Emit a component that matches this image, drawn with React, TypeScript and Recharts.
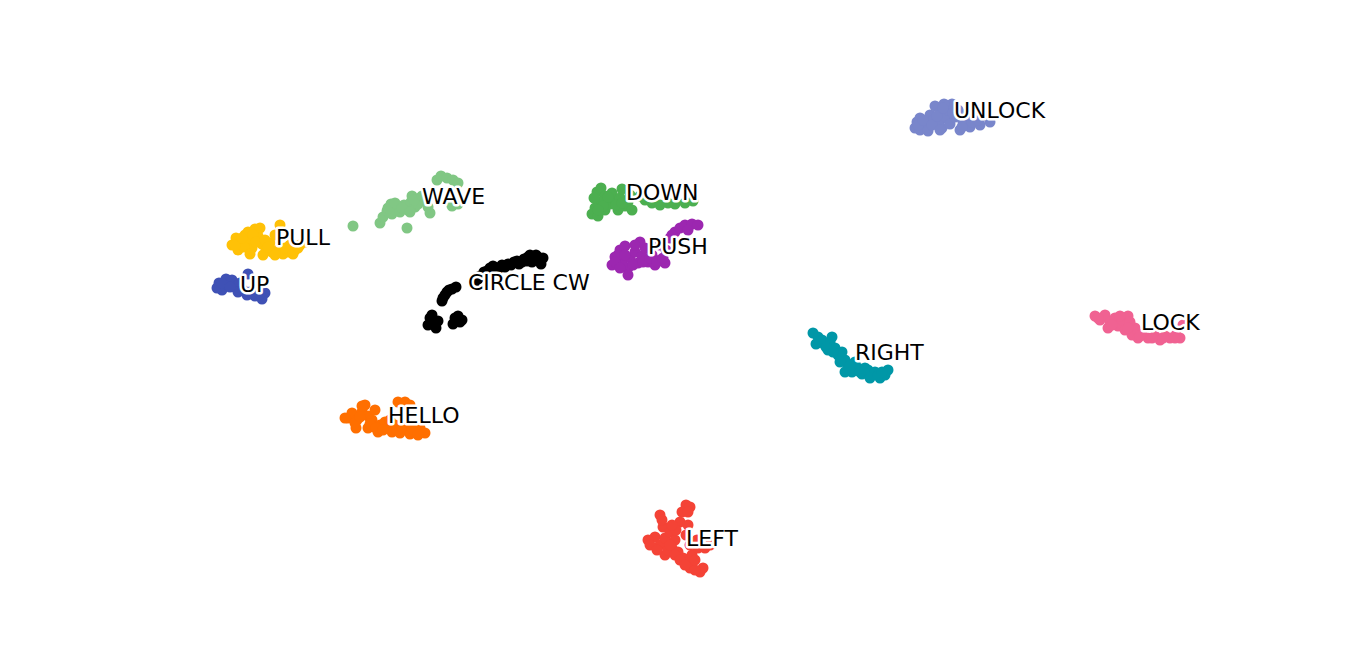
import { Scatter, ScatterChart, XAxis, YAxis } from 'recharts'

type Pt = { x: number; y: number }

const unlock: Pt[] = [
  { x: 23.4, y: 21.3 }, { x: 23.2, y: 20.7 }, { x: 23.7, y: 21.7 }, { x: 24.2, y: 21.0 },
  { x: 24.7, y: 22.0 }, { x: 25.2, y: 22.9 }, { x: 25.0, y: 21.5 }, { x: 25.7, y: 22.3 },
  { x: 26.2, y: 21.7 }, { x: 25.9, y: 20.7 }, { x: 26.7, y: 21.1 }, { x: 27.2, y: 21.8 },
  { x: 26.5, y: 22.5 }, { x: 27.7, y: 20.5 }, { x: 28.0, y: 21.3 }, { x: 28.7, y: 20.8 },
  { x: 29.2, y: 21.7 }, { x: 28.5, y: 22.3 }, { x: 27.5, y: 22.5 }, { x: 30.7, y: 21.3 },
  { x: 30.2, y: 21.9 }, { x: 29.7, y: 21.0 }, { x: 23.7, y: 20.5 }, { x: 24.5, y: 20.4 },
  { x: 25.5, y: 21.1 }, { x: 26.9, y: 23.1 }, { x: 26.1, y: 23.1 },
  { x: 23.5, y: 21.0 }, { x: 24.0, y: 21.5 }, { x: 24.9, y: 21.0 }, { x: 25.4, y: 21.9 },
  { x: 26.0, y: 22.7 }, { x: 27.0, y: 22.2 }, { x: 28.2, y: 21.7 }, { x: 28.9, y: 21.3 },
  { x: 27.9, y: 20.8 }, { x: 29.5, y: 21.5 }, { x: 25.7, y: 20.5 },
]

const wave: Pt[] = [
  { x: -33.0, y: 10.9 }, { x: -30.3, y: 11.2 }, { x: -30.0, y: 11.8 }, { x: -29.6, y: 12.4 },
  { x: -29.2, y: 13.1 }, { x: -28.7, y: 12.7 }, { x: -29.1, y: 12.1 }, { x: -28.3, y: 12.3 },
  { x: -27.9, y: 13.0 }, { x: -27.5, y: 12.5 }, { x: -27.2, y: 13.3 }, { x: -26.8, y: 12.8 },
  { x: -27.1, y: 13.9 }, { x: -26.3, y: 13.7 }, { x: -26.5, y: 13.1 }, { x: -25.8, y: 13.5 },
  { x: -25.3, y: 12.2 }, { x: -25.5, y: 12.8 }, { x: -27.6, y: 10.7 }, { x: -24.6, y: 15.5 },
  { x: -24.2, y: 15.9 }, { x: -23.6, y: 15.7 }, { x: -23.0, y: 15.5 }, { x: -22.5, y: 15.2 },
  { x: -23.8, y: 13.5 }, { x: -23.1, y: 12.9 }, { x: -22.5, y: 13.1 },
  { x: -29.5, y: 12.7 }, { x: -28.8, y: 13.2 }, { x: -28.1, y: 12.7 }, { x: -27.3, y: 12.3 },
  { x: -26.9, y: 13.5 }, { x: -26.1, y: 13.9 },
]

const pull: Pt[] = [
  { x: -45.1, y: 9.0 }, { x: -44.7, y: 9.7 }, { x: -44.3, y: 9.2 }, { x: -44.5, y: 8.5 },
  { x: -43.8, y: 10.0 }, { x: -43.3, y: 9.5 }, { x: -43.5, y: 10.3 }, { x: -42.8, y: 10.6 },
  { x: -42.3, y: 10.7 }, { x: -42.5, y: 9.9 }, { x: -42.1, y: 9.1 }, { x: -43.1, y: 8.7 },
  { x: -43.9, y: 8.8 }, { x: -41.7, y: 8.5 }, { x: -41.3, y: 9.2 }, { x: -41.1, y: 8.3 },
  { x: -40.5, y: 8.5 }, { x: -40.0, y: 8.1 }, { x: -39.5, y: 8.3 }, { x: -38.8, y: 8.5 },
  { x: -38.3, y: 9.0 }, { x: -37.8, y: 9.3 }, { x: -39.3, y: 9.0 }, { x: -40.3, y: 11.0 },
  { x: -40.8, y: 10.0 }, { x: -42.0, y: 8.0 }, { x: -43.3, y: 8.1 },
  { x: -44.8, y: 9.0 }, { x: -44.1, y: 9.7 }, { x: -43.0, y: 10.0 }, { x: -42.7, y: 9.3 },
  { x: -41.8, y: 9.5 }, { x: -41.5, y: 8.8 }, { x: -40.8, y: 8.0 }, { x: -39.8, y: 8.7 },
  { x: -39.0, y: 8.1 }, { x: -38.5, y: 8.7 },
]

const up: Pt[] = [
  { x: -46.4, y: 5.2 }, { x: -46.1, y: 4.5 }, { x: -45.5, y: 5.0 }, { x: -45.1, y: 5.5 },
  { x: -44.8, y: 4.8 }, { x: -44.3, y: 5.2 }, { x: -43.5, y: 6.1 }, { x: -43.3, y: 4.3 },
  { x: -42.8, y: 3.9 }, { x: -42.1, y: 3.6 }, { x: -42.5, y: 4.5 }, { x: -41.8, y: 4.2 },
  { x: -43.6, y: 4.0 }, { x: -44.5, y: 4.3 }, { x: -45.7, y: 5.6 }, { x: -46.6, y: 4.7 },
  { x: -46.1, y: 5.2 }, { x: -45.3, y: 4.8 }, { x: -44.0, y: 4.5 }, { x: -43.1, y: 4.1 },
  { x: -42.3, y: 4.1 },
]

const circleCw: Pt[] = [
  { x: -25.3, y: 1.7 }, { x: -25.5, y: 1.0 }, { x: -24.9, y: 1.3 }, { x: -24.7, y: 0.7 },
  { x: -25.1, y: 2.0 }, { x: -24.5, y: 1.4 }, { x: -22.8, y: 1.7 }, { x: -22.3, y: 1.3 },
  { x: -23.0, y: 1.1 }, { x: -22.5, y: 1.9 }, { x: -22.1, y: 1.5 }, { x: -24.0, y: 3.7 },
  { x: -23.6, y: 4.3 }, { x: -23.1, y: 4.6 }, { x: -22.7, y: 4.8 }, { x: -23.8, y: 4.0 },
  { x: -20.9, y: 5.0 }, { x: -20.5, y: 5.6 }, { x: -19.9, y: 6.3 }, { x: -19.3, y: 6.7 },
  { x: -18.7, y: 6.7 }, { x: -18.1, y: 7.0 }, { x: -17.5, y: 7.1 }, { x: -16.9, y: 7.3 },
  { x: -16.4, y: 7.1 }, { x: -15.9, y: 7.6 }, { x: -15.5, y: 7.8 }, { x: -15.0, y: 7.6 },
  { x: -14.5, y: 7.8 }, { x: -14.0, y: 7.7 }, { x: -14.2, y: 7.1 }, { x: -15.1, y: 7.3 },
  { x: -20.3, y: 5.9 }, { x: -19.6, y: 6.4 }, { x: -19.0, y: 6.9 }, { x: -18.4, y: 6.7 },
  { x: -17.8, y: 6.8 }, { x: -17.2, y: 7.0 }, { x: -16.6, y: 7.4 }, { x: -16.1, y: 7.3 },
  { x: -15.6, y: 7.4 }, { x: -14.7, y: 8.0 }, { x: -15.3, y: 8.0 }, { x: -24.1, y: 3.4 },
  { x: -23.4, y: 4.5 },
]

const down: Pt[] = [
  { x: -8.6, y: 14.3 }, { x: -8.2, y: 14.7 }, { x: -7.8, y: 13.9 }, { x: -8.3, y: 13.3 },
  { x: -8.8, y: 12.7 }, { x: -9.1, y: 12.1 }, { x: -8.5, y: 11.9 }, { x: -7.8, y: 12.5 },
  { x: -7.3, y: 13.1 }, { x: -6.8, y: 13.5 }, { x: -7.1, y: 14.2 }, { x: -6.3, y: 13.7 },
  { x: -5.8, y: 12.9 }, { x: -6.5, y: 12.5 }, { x: -5.5, y: 13.3 }, { x: -5.1, y: 12.5 },
  { x: -6.1, y: 14.6 }, { x: -5.3, y: 14.0 }, { x: -3.8, y: 13.5 }, { x: -3.1, y: 13.2 },
  { x: -2.3, y: 13.0 }, { x: -1.5, y: 13.2 }, { x: -0.8, y: 13.1 }, { x: 0.2, y: 13.2 },
  { x: 1.0, y: 13.4 }, { x: -4.3, y: 13.9 },
  { x: -8.9, y: 13.7 }, { x: -8.0, y: 12.9 }, { x: -7.5, y: 13.8 }, { x: -6.7, y: 13.0 },
  { x: -6.1, y: 13.2 }, { x: -8.5, y: 12.5 },
]

const push: Pt[] = [
  { x: -7.1, y: 7.0 }, { x: -6.8, y: 7.8 }, { x: -6.3, y: 8.5 }, { x: -5.8, y: 8.9 },
  { x: -6.1, y: 7.3 }, { x: -5.5, y: 6.7 }, { x: -5.3, y: 7.7 }, { x: -4.8, y: 8.3 },
  { x: -4.5, y: 7.2 }, { x: -4.1, y: 7.9 }, { x: -3.8, y: 8.7 }, { x: -4.3, y: 9.3 },
  { x: -3.5, y: 7.3 }, { x: -3.1, y: 8.0 }, { x: -2.8, y: 7.0 }, { x: -2.3, y: 7.5 },
  { x: -1.8, y: 7.2 }, { x: -5.5, y: 6.0 }, { x: -6.5, y: 8.0 }, { x: -2.3, y: 9.0 },
  { x: -1.3, y: 9.7 }, { x: -0.8, y: 10.3 }, { x: -0.3, y: 10.7 }, { x: 0.2, y: 11.0 },
  { x: 0.9, y: 11.1 }, { x: 1.5, y: 11.0 }, { x: 0.5, y: 10.5 }, { x: -1.7, y: 8.5 },
  { x: -6.8, y: 7.3 }, { x: -5.8, y: 8.0 }, { x: -5.0, y: 7.0 }, { x: -4.0, y: 7.3 },
  { x: -3.3, y: 7.7 }, { x: -2.6, y: 7.3 }, { x: -2.0, y: 7.7 }, { x: -6.3, y: 6.7 },
  { x: -4.8, y: 9.0 }, { x: -1.1, y: 10.0 },
]

const right: Pt[] = [
  { x: 13.0, y: 0.2 }, { x: 13.5, y: -0.2 }, { x: 13.9, y: -0.5 }, { x: 13.3, y: -0.9 },
  { x: 14.2, y: -1.0 }, { x: 14.7, y: -0.7 }, { x: 14.5, y: -1.5 }, { x: 15.2, y: -1.3 },
  { x: 15.5, y: -2.0 }, { x: 15.9, y: -1.7 }, { x: 16.2, y: -2.5 }, { x: 15.7, y: -2.7 },
  { x: 16.5, y: -3.3 }, { x: 16.9, y: -3.7 }, { x: 17.5, y: -3.3 }, { x: 17.9, y: -3.9 },
  { x: 18.5, y: -3.5 }, { x: 19.2, y: -3.7 }, { x: 19.7, y: -4.3 }, { x: 20.2, y: -4.0 },
  { x: 20.5, y: -3.5 }, { x: 18.7, y: -4.3 }, { x: 17.2, y: -2.7 }, { x: 14.9, y: -0.2 },
  { x: 16.2, y: -3.7 },
  { x: 13.7, y: -0.7 }, { x: 14.3, y: -1.2 }, { x: 15.0, y: -1.7 }, { x: 16.7, y: -3.0 },
  { x: 17.7, y: -3.7 }, { x: 18.2, y: -3.3 }, { x: 19.5, y: -4.0 }, { x: 19.9, y: -3.7 },
]

const lock: Pt[] = [
  { x: 41.2, y: 1.9 }, { x: 41.7, y: 1.5 }, { x: 42.2, y: 2.0 }, { x: 42.7, y: 1.3 },
  { x: 43.2, y: 1.7 }, { x: 42.5, y: 0.7 }, { x: 43.5, y: 0.9 }, { x: 43.9, y: 1.5 },
  { x: 44.5, y: 1.9 }, { x: 44.2, y: 0.5 }, { x: 44.9, y: 0.0 }, { x: 45.5, y: -0.3 },
  { x: 45.2, y: 0.7 }, { x: 45.9, y: 0.1 }, { x: 46.5, y: -0.3 }, { x: 47.2, y: -0.1 },
  { x: 47.7, y: -0.5 }, { x: 48.2, y: -0.1 }, { x: 48.7, y: -0.3 }, { x: 49.3, y: 0.0 },
  { x: 49.7, y: -0.3 }, { x: 50.0, y: 1.0 }, { x: 44.7, y: 1.3 }, { x: 43.7, y: 1.9 },
  { x: 41.5, y: 1.7 }, { x: 42.9, y: 1.0 }, { x: 44.5, y: 0.7 }, { x: 45.7, y: -0.1 },
  { x: 46.9, y: -0.3 }, { x: 48.0, y: -0.3 }, { x: 49.2, y: -0.3 },
]

const hello: Pt[] = [
  { x: -33.5, y: -8.3 }, { x: -33.1, y: -7.8 }, { x: -32.6, y: -8.5 }, { x: -32.7, y: -9.3 },
  { x: -32.1, y: -7.7 }, { x: -31.8, y: -7.0 }, { x: -31.5, y: -8.1 }, { x: -31.1, y: -8.5 },
  { x: -30.8, y: -7.5 }, { x: -30.3, y: -9.0 }, { x: -29.8, y: -8.7 }, { x: -29.5, y: -9.3 },
  { x: -29.1, y: -9.7 }, { x: -28.8, y: -9.0 }, { x: -28.3, y: -9.8 }, { x: -27.8, y: -9.3 },
  { x: -27.3, y: -9.9 }, { x: -26.8, y: -9.7 }, { x: -26.3, y: -9.3 }, { x: -25.8, y: -9.8 },
  { x: -28.5, y: -6.7 }, { x: -27.8, y: -6.7 }, { x: -27.3, y: -7.0 }, { x: -30.5, y: -9.7 },
  { x: -31.5, y: -9.3 },
  { x: -32.8, y: -8.8 }, { x: -32.3, y: -8.2 }, { x: -31.3, y: -8.9 }, { x: -30.7, y: -9.3 },
  { x: -30.0, y: -9.5 }, { x: -29.3, y: -8.5 }, { x: -28.6, y: -9.5 }, { x: -28.1, y: -9.2 },
  { x: -27.1, y: -9.3 }, { x: -26.5, y: -10.0 }, { x: -33.8, y: -8.3 }, { x: -32.1, y: -7.1 },
]

const left: Pt[] = [
  { x: 0.3, y: -17.0 }, { x: 0.7, y: -17.2 }, { x: -0.1, y: -17.7 }, { x: -2.3, y: -18.0 },
  { x: -2.0, y: -19.2 }, { x: -0.3, y: -18.7 }, { x: 0.5, y: -19.0 }, { x: -2.8, y: -20.2 },
  { x: -3.5, y: -20.5 }, { x: -2.3, y: -21.0 }, { x: -1.8, y: -20.3 }, { x: -1.3, y: -19.7 },
  { x: -0.8, y: -20.5 }, { x: -1.1, y: -21.3 }, { x: -0.5, y: -21.7 }, { x: 0.0, y: -22.3 },
  { x: 0.5, y: -22.7 }, { x: 0.9, y: -22.0 }, { x: 1.7, y: -23.7 }, { x: 2.0, y: -23.3 },
  { x: -1.8, y: -22.0 }, { x: -1.5, y: -21.5 }, { x: 1.4, y: -20.5 }, { x: 2.2, y: -21.3 },
  { x: 2.7, y: -21.0 }, { x: 0.7, y: -23.3 },
  { x: -3.3, y: -21.0 }, { x: -2.6, y: -21.5 }, { x: -2.1, y: -18.5 }, { x: -1.3, y: -21.0 },
  { x: -0.8, y: -22.0 }, { x: -0.3, y: -22.5 }, { x: 0.2, y: -23.0 }, { x: 1.2, y: -23.5 },
  { x: 0.3, y: -20.0 }, { x: 0.7, y: -21.0 }, { x: 1.2, y: -22.5 }, { x: 1.5, y: -21.3 },
  { x: -0.7, y: -19.5 }, { x: -1.1, y: -19.0 }, { x: 0.5, y: -17.7 },
]

const gestures = [
  { name: 'UNLOCK', color: '#7986CB', points: unlock },
  { name: 'WAVE', color: '#81C784', points: wave },
  { name: 'PULL', color: '#FFC107', points: pull },
  { name: 'UP', color: '#3F51B5', points: up },
  { name: 'CIRCLE CW', color: '#000000', points: circleCw },
  { name: 'DOWN', color: '#4CAF50', points: down },
  { name: 'PUSH', color: '#9C27B0', points: push },
  { name: 'RIGHT', color: '#0097A7', points: right },
  { name: 'LOCK', color: '#F06292', points: lock },
  { name: 'HELLO', color: '#FF6F00', points: hello },
  { name: 'LEFT', color: '#F44336', points: left },
]

// label anchors (left edge, baseline)
const labels = [
  { x: 27.1, y: 21.7, name: 'UNLOCK' },
  { x: -26.1, y: 13.1, name: 'WAVE' },
  { x: -40.7, y: 9.0, name: 'PULL' },
  { x: -44.3, y: 4.3, name: 'UP' },
  { x: -21.5, y: 4.5, name: 'CIRCLE CW' },
  { x: -5.7, y: 13.5, name: 'DOWN' },
  { x: -3.5, y: 8.1, name: 'PUSH' },
  { x: 17.2, y: -2.5, name: 'RIGHT' },
  { x: 45.8, y: 0.5, name: 'LOCK' },
  { x: -29.5, y: -8.8, name: 'HELLO' },
  { x: 0.3, y: -21.1, name: 'LEFT' },
]

const Dot = (props: any) => (
  <circle cx={props.cx} cy={props.cy} r={5.5} fill={props.fill} />
)

const Label = (props: any) => (
  <text
    x={props.cx}
    y={props.cy}
    fontSize={22}
    fontFamily='DejaVu Sans'
    fill='#000'
    stroke='#fff'
    strokeWidth={5}
    strokeLinejoin='round'
    paintOrder='stroke'
  >
    {props.payload.name}
  </text>
)

export default function App() {
  return (
    <div>
      <style>{'body{margin:0}'}</style>
      <ScatterChart
        width={1366}
        height={670}
        margin={{ top: 0, right: 0, bottom: 0, left: 0 }}
      >
        <XAxis type='number' dataKey='x' domain={[-68.3, 68.3]} hide />
        <YAxis type='number' dataKey='y' domain={[-33.5, 33.5]} hide />
        {gestures.map((g) => (
          <Scatter
            key={g.name}
            name={g.name}
            data={g.points}
            fill={g.color}
            shape={Dot}
            isAnimationActive={false}
          />
        ))}
        <Scatter
          name='labels'
          data={labels}
          shape={Label}
          isAnimationActive={false}
        />
      </ScatterChart>
    </div>
  )
}
